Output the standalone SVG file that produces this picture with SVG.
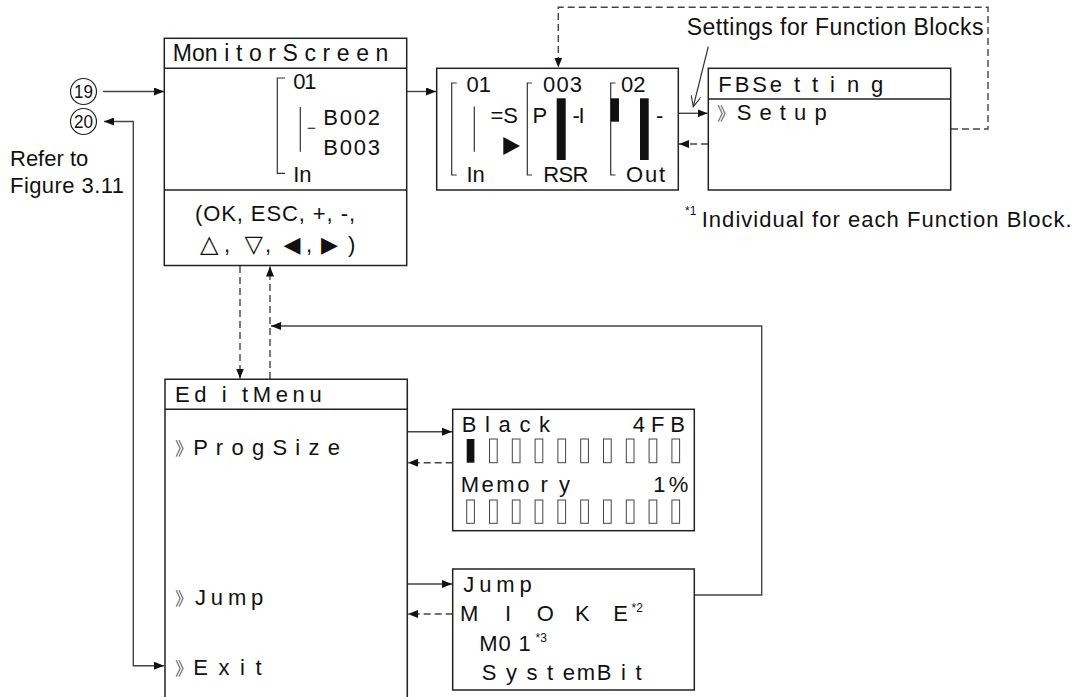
<svg xmlns="http://www.w3.org/2000/svg" width="1076" height="697" viewBox="0 0 1076 697">
<defs>
<style>
text{font-family:"Liberation Sans",Arial,sans-serif;fill:#111;font-size:22px}
.box{fill:#fff;stroke:#222;stroke-width:1.5}
.sep{stroke:#222;stroke-width:1.5;fill:none}
.ln{stroke:#333;stroke-width:1.2;fill:none}
.c{stroke:#444;stroke-width:1.4;fill:none}
.d{stroke:#444;stroke-width:1.4;fill:none;stroke-dasharray:7 4}
.bar{fill:#111}
.ob{fill:#fff;stroke:#444;stroke-width:1}
.sm{font-size:12px}
.chev{font-family:"Noto Sans CJK JP","DejaVu Sans",sans-serif;font-size:18px;fill:#555}
.sym{font-family:"DejaVu Sans",sans-serif}
.circ{fill:none;stroke:#222;stroke-width:1.2}
.num{font-size:18px}
.lb{font-size:23px}
</style>
<marker id="ah" viewBox="0 0 10 8" refX="10" refY="4" markerWidth="10" markerHeight="8" markerUnits="userSpaceOnUse" orient="auto-start-reverse">
<path d="M0,0 L10,4 L0,8 z" fill="#111"/>
</marker>
<marker id="oa" viewBox="0 0 12 10" refX="11" refY="5" markerWidth="12" markerHeight="10" markerUnits="userSpaceOnUse" orient="auto">
<path d="M0,0 L11,5 L0,10" fill="none" stroke="#333" stroke-width="1.1"/>
</marker>
</defs>

<g id="connectors">
<path class="c" d="M103,91.5 H164" marker-end="url(#ah)"/>
<path class="c" d="M104,121.5 H133.3 V665.7 H164" marker-start="url(#ah)" marker-end="url(#ah)"/>
<path class="c" d="M407,91.5 H436" marker-end="url(#ah)"/>
<path class="c" d="M678,113.3 H707.5" marker-end="url(#ah)"/>
<path class="d" d="M708,144 H679" marker-end="url(#ah)"/>
<path class="d" d="M951,129 H988 V7.3 H558.3 V67.5" marker-end="url(#ah)"/>
<path class="ln" d="M708.3,46.7 L693.3,106.7" marker-end="url(#oa)"/>
<path class="d" d="M240,266 V378.5" marker-end="url(#ah)"/>
<path class="d" d="M270,379 V266.5" marker-end="url(#ah)"/>
<path class="c" d="M694.3,595 H761.7 V326 H271" marker-end="url(#ah)"/>
<path class="c" d="M407.3,431.7 H452" marker-end="url(#ah)"/>
<path class="d" d="M452.7,462.7 H408" marker-end="url(#ah)"/>
<path class="c" d="M407.3,584 H452" marker-end="url(#ah)"/>
<path class="d" d="M452.7,614 H408" marker-end="url(#ah)"/>
</g>

<g id="ref-19">
<circle class="circ" cx="83.5" cy="91.5" r="13"/>
<text class="num" x="83.5" y="98" text-anchor="middle" textLength="19" lengthAdjust="spacingAndGlyphs">19</text>
</g>
<g id="ref-20">
<circle class="circ" cx="83.5" cy="121.5" r="13"/>
<text class="num" x="83.5" y="128" text-anchor="middle" textLength="19" lengthAdjust="spacingAndGlyphs">20</text>
</g>
<g id="refer-note">
<text x="10" y="166">Refer to</text>
<text x="10" y="193" textLength="114">Figure 3.11</text>
</g>

<g id="monitor-screen">
<rect class="box" x="164.3" y="38.3" width="242.4" height="227.2"/>
<line class="sep" x1="164.3" y1="68.3" x2="406.7" y2="68.3"/>
<line class="sep" x1="164.3" y1="190" x2="406.7" y2="190"/>
<text class="lb" x="172.7" y="61" textLength="215.7">Mon i t o r S c r e e n</text>
<path class="ln" d="M285,78 H277.3 V173.3 H285"/>
<line class="ln" x1="300.3" y1="107" x2="300.3" y2="151.7"/>
<line class="ln" x1="307.7" y1="128.3" x2="315.3" y2="128.3"/>
<text x="293.3" y="89" font-size="20" textLength="23.3">01</text>
<text x="323.3" y="125" font-size="24" textLength="56.7">B002</text>
<text x="323.3" y="155" font-size="24" textLength="56.7">B003</text>
<text x="293.3" y="182" font-size="23" textLength="18.3">In</text>
<text x="195" y="221" font-size="23" textLength="160">(OK, ESC, +, -,</text>
<text y="252" font-size="23"><tspan class="sym" x="200" font-size="24">△</tspan><tspan x="224">,</tspan><tspan class="sym" x="244.5" font-size="24">▽</tspan><tspan x="265">,</tspan><tspan class="sym" x="283.5" font-size="22">◀</tspan><tspan x="306">,</tspan><tspan class="sym" x="321" font-size="22">▶</tspan><tspan x="348">)</tspan></text>
</g>

<g id="fb-monitor">
<rect class="box" x="436.7" y="68.3" width="241.6" height="121.7"/>
<path class="ln" d="M456.7,83 H451.7 V175 H456.7"/>
<line class="ln" x1="474.3" y1="106.5" x2="474.3" y2="151.7"/>
<text x="466.5" y="92" font-size="23">01</text>
<text x="490.5" y="123" font-size="21">=S</text>
<polygon class="bar" points="503.3,137 520,146 503.3,155"/>
<text x="466.5" y="182" font-size="23">In</text>
<path class="ln" d="M532,83 H527.3 V175 H532"/>
<text x="543" y="92" font-size="23" textLength="39">003</text>
<text x="532.5" y="123" font-size="21">P</text>
<rect class="bar" x="556.7" y="98.3" width="9" height="61.7"/>
<text x="572.5" y="123" font-size="21">-<tspan x="578.5">I</tspan></text>
<text x="543.3" y="182" font-size="23" textLength="45">RSR</text>
<path class="ln" d="M615.5,83 H610.7 V175 H615.5"/>
<text x="621" y="92" font-size="23">02</text>
<rect class="bar" x="610.7" y="98.3" width="8.3" height="23.4"/>
<rect class="bar" x="640" y="98.3" width="8.7" height="61.7"/>
<text x="656" y="123" font-size="21">-</text>
<text x="626" y="182" font-size="23" textLength="39">Out</text>
</g>

<g id="fb-setting">
<rect class="box" x="708.3" y="68.3" width="242.4" height="121.7"/>
<line class="sep" x1="708.3" y1="99" x2="950.7" y2="99"/>
<text x="718.3" y="91.7" textLength="165">FBSe t t i n g</text>
<text class="chev" x="717" y="120">》</text>
<text x="736.7" y="120" textLength="90">S e t u p</text>
</g>

<g id="labels">
<text class="lb" x="686.7" y="35" textLength="296.7">Settings for Function Blocks</text>
<text class="sm" x="685" y="215">*1</text>
<text x="701.7" y="227" font-size="24" textLength="370">Individual for each Function Block.</text>
</g>

<g id="edit-menu">
<path class="box" d="M165,697 V379.3 H407.3 V697"/>
<line class="sep" x1="165" y1="409.3" x2="407.3" y2="409.3"/>
<text x="175" y="401.7" textLength="146.7">Ed i tMenu</text>
<text class="chev" x="175" y="455">》</text>
<text x="193.3" y="455" textLength="146.7">P r o g S i z e</text>
<text class="chev" x="175" y="605">》</text>
<text x="195" y="605" textLength="68.3">J u m p</text>
<text class="chev" x="175" y="675">》</text>
<text x="193.3" y="675" textLength="68.4">E x i t</text>
</g>

<g id="prog-size">
<rect class="box" x="452.7" y="409.3" width="241.6" height="121.4"/>
<text x="461.7" y="432.3" textLength="88.3">B l a c k</text>
<text x="632.7" y="432.3" textLength="52.3">4FB</text>
<rect class="bar" x="466.7" y="439" width="7.7" height="23.7"/>
<g class="ob">
<rect x="489.5" y="439" width="7.7" height="23.7"/>
<rect x="512.3" y="439" width="7.7" height="23.7"/>
<rect x="535.1" y="439" width="7.7" height="23.7"/>
<rect x="557.9" y="439" width="7.7" height="23.7"/>
<rect x="580.7" y="439" width="7.7" height="23.7"/>
<rect x="603.5" y="439" width="7.7" height="23.7"/>
<rect x="626.3" y="439" width="7.7" height="23.7"/>
<rect x="649.1" y="439" width="7.7" height="23.7"/>
<rect x="671.9" y="439" width="7.7" height="23.7"/>
<rect x="466.7" y="500" width="7.7" height="23.3"/>
<rect x="489.5" y="500" width="7.7" height="23.3"/>
<rect x="512.3" y="500" width="7.7" height="23.3"/>
<rect x="535.1" y="500" width="7.7" height="23.3"/>
<rect x="557.9" y="500" width="7.7" height="23.3"/>
<rect x="580.7" y="500" width="7.7" height="23.3"/>
<rect x="603.5" y="500" width="7.7" height="23.3"/>
<rect x="626.3" y="500" width="7.7" height="23.3"/>
<rect x="649.1" y="500" width="7.7" height="23.3"/>
<rect x="671.9" y="500" width="7.7" height="23.3"/>
</g>
<text x="460.7" y="491.7" textLength="109.3">Memo r y</text>
<text x="653.3" y="491.7" textLength="35">1%</text>
</g>

<g id="jump">
<rect class="box" x="452.7" y="569" width="241.6" height="121"/>
<text x="463.3" y="591.7" textLength="68.4">J u m p</text>
<text x="460 482 505 520 536.7 558 575 596 613.3" y="620.7">M I O K E</text>
<text class="sm" x="631.5" y="612">*2</text>
<text x="479.3" y="651" textLength="51.4">M0 1</text>
<text class="sm" x="535.5" y="642">*3</text>
<text x="481.7" y="680" textLength="160">S y s t emB i t</text>
</g>
</svg>
